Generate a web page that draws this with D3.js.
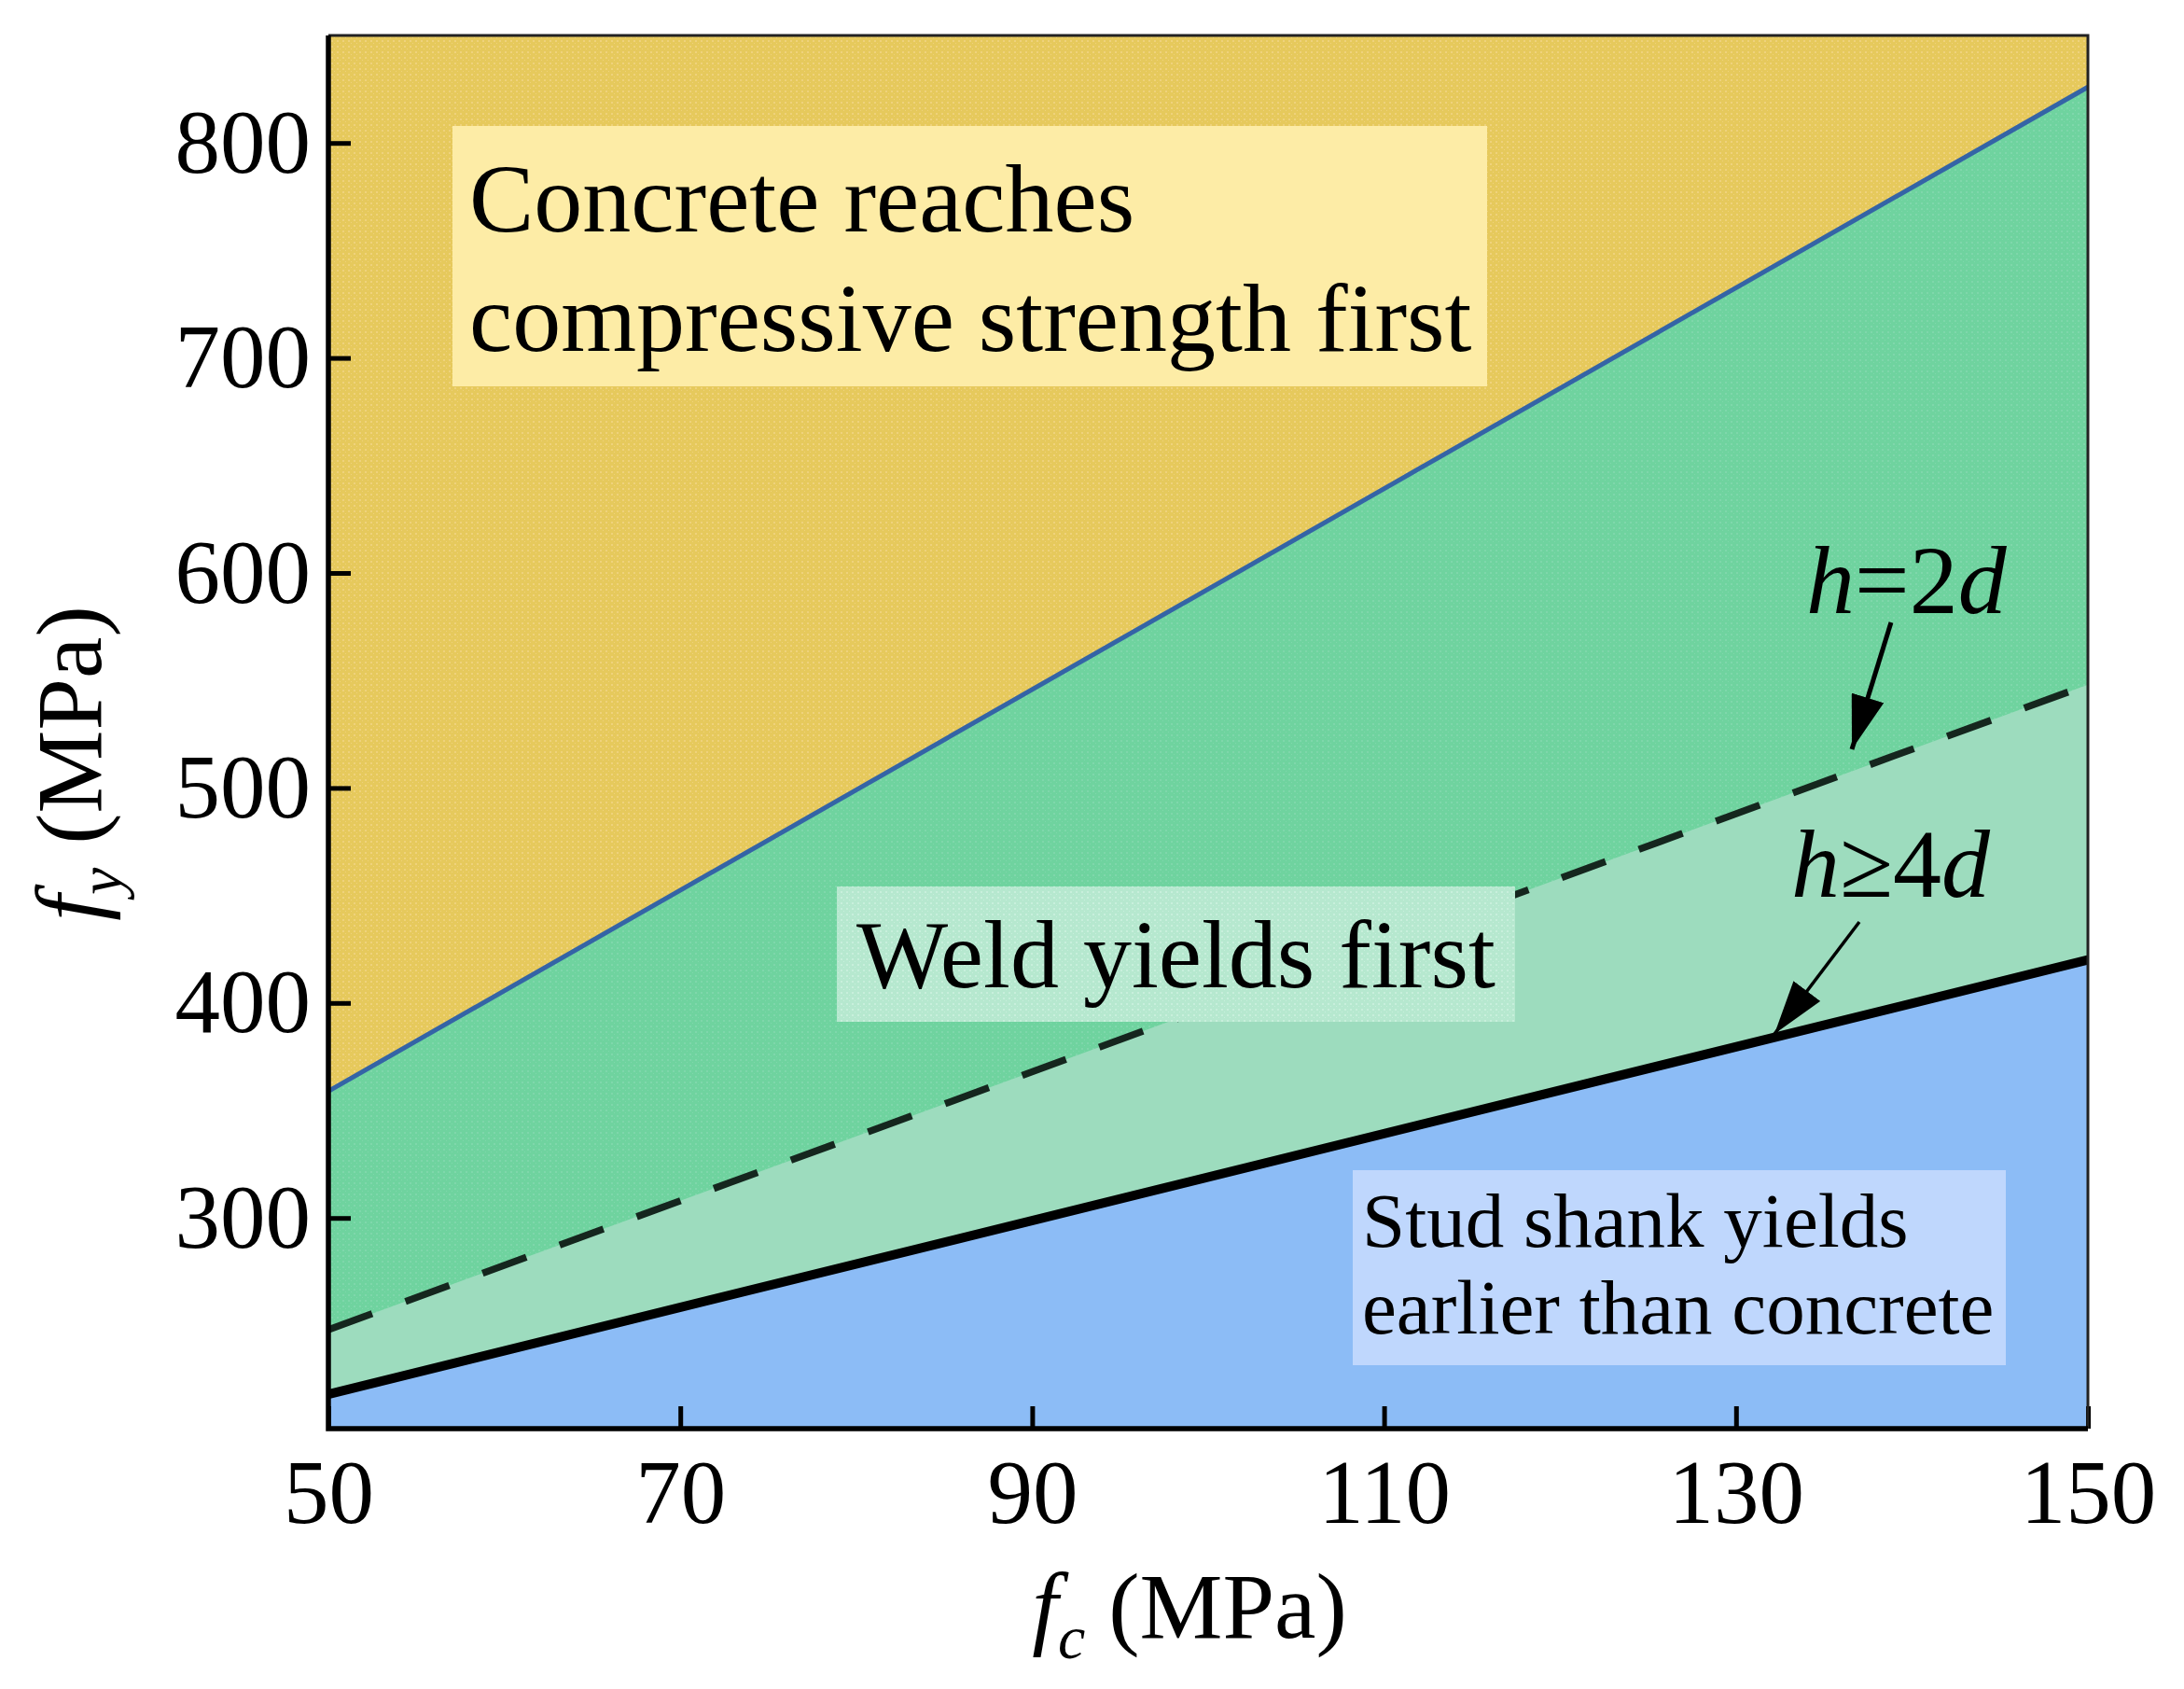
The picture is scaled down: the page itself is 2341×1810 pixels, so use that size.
<!DOCTYPE html>
<html lang="en">
<head>
<meta charset="utf-8">
<script src="https://d3js.org/d3.v7.min.js"></script>
<style type="text/css">
body {
  margin: 0;
  background-color: #ffffff;
}
svg text {
  font-family: "Liberation Serif", "Times New Roman", serif;
  fill: #000;
}
.axis text {
  font-size: 97px;
}
.axis line {
  stroke: #000;
  stroke-width: 5;
}
</style>
</head>
<body>
<script type="text/javascript">

// values (fc in MPa, fy in MPa)
var fc = [50, 150];
var upperLine = [359, 826];   // concrete / weld boundary (blue)
var dashedLine = [248, 548];  // h = 2d
var solidLine = [218, 420];   // h >= 4d

var xTicks = [50, 70, 90, 110, 130, 150];
var yTicks = [300, 400, 500, 600, 700, 800];

var width = 2341;
var height = 1810;

var x = d3.scaleLinear().domain([50, 150]).range([352, 2238]);
var y = d3.scaleLinear().domain([202, 850]).range([1531, 38]);

var svg = d3.select("body")
  .append("svg")
  .attr("width", width)
  .attr("height", height);

// dotted textures like the original fills
var defs = svg.append("defs");
function dotPattern(id, base, dot) {
  var p = defs.append("pattern")
    .attr("id", id)
    .attr("width", 6)
    .attr("height", 6)
    .attr("patternUnits", "userSpaceOnUse");
  p.append("rect").attr("width", 6).attr("height", 6).attr("fill", base);
  p.append("rect").attr("x", 1).attr("y", 1).attr("width", 2).attr("height", 2).attr("fill", dot);
  p.append("rect").attr("x", 4).attr("y", 4).attr("width", 1).attr("height", 1).attr("fill", dot);
}
dotPattern("texYellow", "#e6c95c", "#efd27c");
dotPattern("texGreen", "#6fd39f", "#7fd7ab");
dotPattern("texWeld", "#b6e8cf", "#c8efdc");

defs.append("clipPath").attr("id", "plotClip")
  .append("rect")
  .attr("x", x(50)).attr("y", y(850))
  .attr("width", x(150) - x(50)).attr("height", y(202) - y(850));

defs.append("marker")
  .attr("id", "arrow")
  .attr("viewBox", "0 0 16 10")
  .attr("refX", 16).attr("refY", 5)
  .attr("markerWidth", 58).attr("markerHeight", 36)
  .attr("markerUnits", "userSpaceOnUse")
  .attr("orient", "auto")
  .append("path")
  .attr("d", "M0,0 L16,5 L0,10 Z")
  .attr("fill", "#000");

var plot = svg.append("g").attr("clip-path", "url(#plotClip)");

function pts(vals) {
  return fc.map(function(d, i) { return [d, vals[i]]; });
}

var area = d3.area()
  .x(function(d) { return x(d[0]); })
  .y0(y(202))
  .y1(function(d) { return y(d[1]); });

var line = d3.line()
  .x(function(d) { return x(d[0]); })
  .y(function(d) { return y(d[1]); });

plot.append("rect")
  .attr("x", x(50)).attr("y", y(850))
  .attr("width", x(150) - x(50)).attr("height", y(202) - y(850))
  .attr("fill", "url(#texYellow)");

plot.append("path").datum(pts(upperLine)).attr("d", area).attr("fill", "url(#texGreen)");
plot.append("path").datum(pts(dashedLine)).attr("d", area).attr("fill", "#9ddcbe");
plot.append("path").datum(pts(solidLine)).attr("d", area).attr("fill", "#8cbcf6");

plot.append("path").datum(pts(upperLine)).attr("d", line)
  .attr("fill", "none").attr("stroke", "#3464a6").attr("stroke-width", 5);
plot.append("path").datum(pts(dashedLine)).attr("d", line)
  .attr("fill", "none").attr("stroke", "#15261e").attr("stroke-width", 7.5)
  .attr("stroke-dasharray", "50,38");
plot.append("path").datum(pts(solidLine)).attr("d", line)
  .attr("fill", "none").attr("stroke", "#000").attr("stroke-width", 10);

// region labels
var boxes = svg.append("g");
boxes.append("rect").attr("x", 485).attr("y", 135).attr("width", 1109).attr("height", 279).attr("fill", "#fdeca6");
boxes.append("rect").attr("x", 897).attr("y", 950).attr("width", 727).attr("height", 145).attr("fill", "url(#texWeld)");
boxes.append("rect").attr("x", 1450).attr("y", 1254).attr("width", 700).attr("height", 209).attr("fill", "#bfd7fd");

boxes.append("text").attr("x", 503).attr("y", 248).style("font-size", "104px").text("Concrete reaches");
boxes.append("text").attr("x", 503).attr("y", 376).style("font-size", "104px").text("compressive strength first");
boxes.append("text").attr("x", 918).attr("y", 1058).style("font-size", "104px").text("Weld yields first");
boxes.append("text").attr("x", 1460).attr("y", 1336).style("font-size", "83px").text("Stud shank yields");
boxes.append("text").attr("x", 1460).attr("y", 1429).style("font-size", "83px").text("earlier than concrete");

// line annotations
var t1 = svg.append("text").attr("x", 1936).attr("y", 657).style("font-size", "104px");
t1.append("tspan").style("font-style", "italic").text("h");
t1.append("tspan").text("=2");
t1.append("tspan").style("font-style", "italic").text("d");

var t2 = svg.append("text").attr("x", 1920).attr("y", 961).style("font-size", "104px");
t2.append("tspan").style("font-style", "italic").text("h");
t2.append("tspan").text("\u22654");
t2.append("tspan").style("font-style", "italic").text("d");

svg.append("line")
  .attr("x1", 2027).attr("y1", 667).attr("x2", 1985).attr("y2", 803)
  .attr("stroke", "#000").attr("stroke-width", 5)
  .attr("marker-end", "url(#arrow)");
svg.append("line")
  .attr("x1", 1993).attr("y1", 988).attr("x2", 1902).attr("y2", 1108)
  .attr("stroke", "#000").attr("stroke-width", 3.5)
  .attr("marker-end", "url(#arrow)");

// axes
var xAxis = d3.axisBottom(x).tickValues(xTicks).tickSizeInner(-24).tickSizeOuter(0).tickPadding(32);
var yAxis = d3.axisLeft(y).tickValues(yTicks).tickSizeInner(-24).tickSizeOuter(0).tickPadding(19);

var gx = svg.append("g").attr("class", "axis").attr("transform", "translate(0," + y(202) + ")").call(xAxis);
var gy = svg.append("g").attr("class", "axis").attr("transform", "translate(" + x(50) + ",0)").call(yAxis);
gx.select(".domain").remove();
gy.select(".domain").remove();
svg.selectAll(".axis text").attr("font-family", null);

// frame: thick left/bottom, thin top/right
svg.append("path")
  .attr("d", "M" + x(50) + "," + y(850) + "H" + x(150) + "V" + y(202))
  .attr("fill", "none").attr("stroke", "#222").attr("stroke-width", 3);
svg.append("path")
  .attr("d", "M" + x(50) + "," + y(850) + "V" + y(202) + "H" + x(150))
  .attr("fill", "none").attr("stroke", "#000").attr("stroke-width", 5.5);

// axis titles
var xl = svg.append("text").attr("x", 1275).attr("y", 1755)
  .attr("text-anchor", "middle").style("font-size", "100px");
xl.append("tspan").style("font-style", "italic").text("f");
xl.append("tspan").style("font-style", "italic").style("font-size", "66px").attr("dy", 22).text("c");
xl.append("tspan").attr("dy", -22).text(" (MPa)");

var yl = svg.append("text")
  .attr("transform", "translate(108,818) rotate(-90)")
  .attr("text-anchor", "middle").style("font-size", "100px");
yl.append("tspan").style("font-style", "italic").text("f");
yl.append("tspan").style("font-style", "italic").style("font-size", "66px").attr("dy", 22).text("y");
yl.append("tspan").attr("dy", -22).text(" (MPa)");

</script>
</body>
</html>
